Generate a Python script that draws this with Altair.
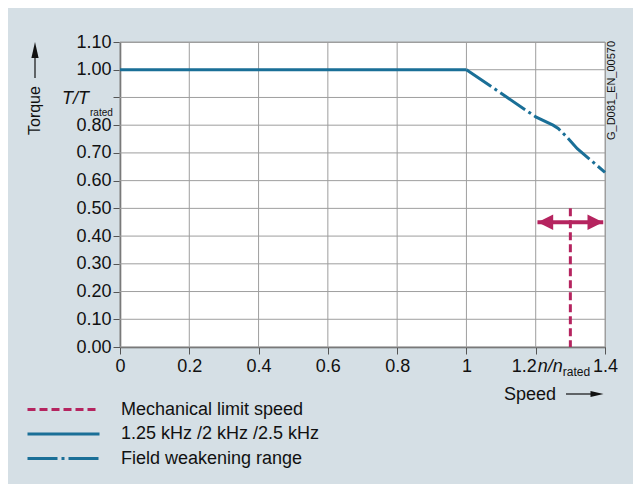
import altair as alt
import pandas as pd

# ---------------- data ----------------
series_names = ["Mechanical limit speed", "1.25 kHz /2 kHz /2.5 kHz", "Field weakening range"]
series_colors = ["#b5245f", "#1a6f97", "#1a6f97"]
series_dashes = [[8, 4], [1, 0], [30, 4, 3, 4]]

flat_speed = [0.0, 1.0]
flat_torque = [1.0, 1.0]

fw_speed = [1.0, 1.1, 1.2, 1.25, 1.265, 1.29, 1.32, 1.4]
fw_torque = [1.0, 0.915, 0.83, 0.80, 0.788, 0.757, 0.715, 0.63]

mech_speed = [1.3, 1.3]
mech_torque = [0.5, 0.0]

arrow_tips = [1.205, 1.395]
arrow_torque = [0.45, 0.45]

y_ticks = [0.0, 0.1, 0.2, 0.3, 0.4, 0.5, 0.6, 0.7, 0.8, 0.9, 1.0, 1.1]
x_ticks = [0.0, 0.2, 0.4, 0.6, 0.8, 1.0, 1.2, 1.4]

BG = "#d5dfe5"
FONT = "Liberation Sans"
TXT = "#111111"
GRID = "#9e9e9e"
AX = "#555555"

rows = []
for name, xs, ys in [
    (series_names[0], mech_speed, mech_torque),
    (series_names[1], flat_speed, flat_torque),
    (series_names[2], fw_speed, fw_torque),
]:
    for i, (a, b) in enumerate(zip(xs, ys)):
        rows.append({"series": name, "speed": a, "torque": b, "idx": i})
lines_df = pd.DataFrame(rows)

# grid line table: two end points per tick value
grid_rows = []
for k, v in enumerate(x_ticks):
    grid_rows.append({"gid": f"x{k}", "gx": v, "gy": 0.0, "gi": 0})
    grid_rows.append({"gid": f"x{k}", "gx": v, "gy": 1.1, "gi": 1})
for k, v in enumerate(y_ticks):
    grid_rows.append({"gid": f"y{k}", "gx": 0.0, "gy": v, "gi": 0})
    grid_rows.append({"gid": f"y{k}", "gx": 1.4, "gy": v, "gi": 1})
grid_df = pd.DataFrame(grid_rows)

xscale = alt.Scale(domain=[0, 1.4], nice=False, zero=False)
yscale = alt.Scale(domain=[0, 1.1], nice=False)

xaxis = alt.Axis(
    values=x_ticks, labelExpr="datum.value == 1.2 ? '' : format(datum.value, '~g')",
    title=None, labelFont=FONT, labelFontSize=18, labelColor=TXT, labelPadding=3,
    tickSize=7, tickColor=AX, domainColor=AX, domainWidth=1.5, grid=False,
    labelFlush=False, labelOverlap=False,
)
yaxis = alt.Axis(
    values=y_ticks, labelExpr="datum.value == 0.9 ? '' : format(datum.value, '.2f')",
    title=None, labelFont=FONT, labelFontSize=18, labelColor=TXT, labelPadding=2,
    tickSize=7, tickColor=AX, domainColor=AX, domainWidth=1.5, grid=False,
    labelFlush=False, labelOverlap=False,
)

legend = alt.Legend(
    title=None, orient="none", legendX=-67, legendY=357, direction="vertical",
    symbolType="M-4,0L4,0", symbolSize=324, symbolStrokeWidth=3,
    labelFont=FONT, labelFontSize=18, labelColor=TXT, labelOffset=47, labelLimit=500,
    rowPadding=4.5, padding=0,
)


def X(field):
    return alt.X(field, type="quantitative", scale=xscale, axis=xaxis)


def Y(field):
    return alt.Y(field, type="quantitative", scale=yscale, axis=yaxis)


grid = alt.Chart(grid_df).mark_line(color=GRID, strokeWidth=1, opacity=1).encode(
    x=X("gx"), y=Y("gy"), detail="gid:N", order="gi:Q"
)

lines = alt.Chart(lines_df).mark_line(strokeWidth=3, strokeCap="butt").encode(
    x=X("speed"),
    y=Y("torque"),
    color=alt.Color("series:N", scale=alt.Scale(domain=series_names, range=series_colors), legend=legend),
    strokeDash=alt.StrokeDash("series:N", scale=alt.Scale(domain=series_names, range=series_dashes), legend=legend),
    order="idx:Q",
)

# double arrow at mechanical limit
arrow_df = pd.DataFrame({"x": [arrow_tips[0]], "x2": [arrow_tips[1]], "y": [arrow_torque[0]]})
shaft = alt.Chart(arrow_df).mark_rule(color=series_colors[0], strokeWidth=4, strokeCap="butt").encode(
    x=X("x"), x2="x2:Q", y=Y("y")
)
head_l = alt.Chart(pd.DataFrame({"x": [arrow_tips[0]], "y": [arrow_torque[0]]})).mark_point(
    shape="M1,-1L-1,0L1,1Z", filled=True, opacity=1, color=series_colors[0], size=240, xOffset=8
).encode(x=X("x"), y=Y("y"))
head_r = alt.Chart(pd.DataFrame({"x": [arrow_tips[1]], "y": [arrow_torque[1]]})).mark_point(
    shape="M-1,-1L1,0L-1,1Z", filled=True, opacity=1, color=series_colors[0], size=240, xOffset=-8
).encode(x=X("x"), y=Y("y"))

one = pd.DataFrame({"a": [0]})


def txt(text, x, y, size=18, italic=False, align="left", baseline="alphabetic", angle=0):
    kw = dict(text=text, font=FONT, fontSize=size, color=TXT, align=align, baseline=baseline)
    if italic:
        kw["fontStyle"] = "italic"
    if angle:
        kw["angle"] = angle
    return alt.Chart(one).mark_text(**kw).encode(x=x, y=y)


# y-axis unit label T/T_rated
ylab_df = pd.DataFrame({"v": [0.9]})
t_lab = alt.Chart(ylab_df).mark_text(
    text="T/T", font=FONT, fontSize=18, fontStyle="italic", color=TXT, align="right", baseline="alphabetic", dy=7
).encode(x=alt.value(-31), y=Y("v"))
t_sub = alt.Chart(ylab_df).mark_text(
    text="rated", font=FONT, fontSize=10, color=TXT, align="left", baseline="alphabetic", dy=19
).encode(x=alt.value(-30), y=Y("v"))

# x-axis: 1.2 n/n_rated
xl_df = pd.DataFrame({"v": [1.2], "z": [0.0]})
x12 = alt.Chart(xl_df).mark_text(
    text="1.2", font=FONT, fontSize=18, color=TXT, align="right", baseline="alphabetic", dy=25, dx=1
).encode(x=X("v"), y=Y("z"))
xnn = alt.Chart(xl_df).mark_text(
    text="n/n", font=FONT, fontSize=18, fontStyle="italic", color=TXT, align="left", baseline="alphabetic", dy=25, dx=2
).encode(x=X("v"), y=Y("z"))
xsub = alt.Chart(xl_df).mark_text(
    text="rated", font=FONT, fontSize=12, color=TXT, align="left", baseline="alphabetic", dy=29, dx=27
).encode(x=X("v"), y=Y("z"))

# axis titles with arrows
speed_t = txt("Speed", alt.value(384), alt.value(358))
speed_line = alt.Chart(one).mark_rule(color=TXT, strokeWidth=1.2).encode(
    x=alt.value(446), x2=alt.value(476), y=alt.value(352)
)
speed_head = alt.Chart(one).mark_point(
    shape="M-1,-0.45L1,0L-1,0.45Z", filled=True, opacity=1, color=TXT, size=169
).encode(x=alt.value(477), y=alt.value(352))

torque_t = txt("Torque", alt.value(-85), alt.value(93), size=16, angle=270, baseline="middle")
torque_line = alt.Chart(one).mark_rule(color=TXT, strokeWidth=1.2).encode(
    x=alt.value(-85), y=alt.value(14), y2=alt.value(36)
)
torque_head = alt.Chart(one).mark_point(
    shape="M-0.45,1L0,-1L0.45,1Z", filled=True, opacity=1, color=TXT, size=256
).encode(x=alt.value(-85), y=alt.value(8))

code_t = txt("G_D081_EN_00570", alt.value(492), alt.value(98), size=11, angle=270, baseline="middle")

chart = alt.layer(
    grid, lines, shaft, head_l, head_r, t_lab, t_sub, x12, xnn, xsub,
    speed_t, speed_line, speed_head, torque_t, torque_line, torque_head, code_t,
).properties(
    width=485, height=305,
    autosize=alt.AutoSizeParams(type="none"),
    padding={"left": 112, "top": 34, "right": 28, "bottom": 137},
    background=BG,
).configure_view(fill="white", stroke=GRID, strokeWidth=1)

chart.save("out.html", embed_options={"renderer": "svg", "actions": False})
